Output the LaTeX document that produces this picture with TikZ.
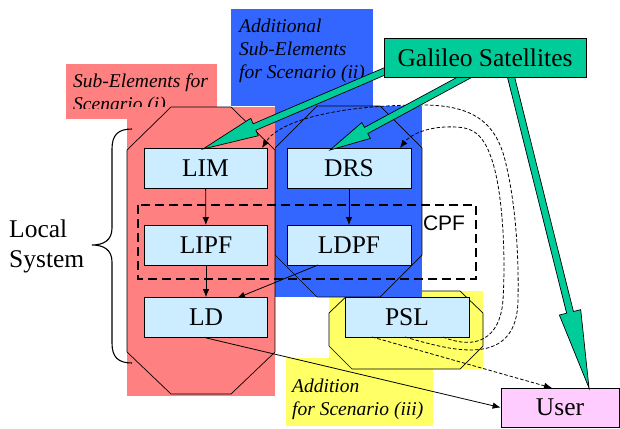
\documentclass[tikz,border=0pt]{standalone}
\usepackage{fontspec}
\setmainfont{Liberation Serif}
\setsansfont{Liberation Sans}
\usetikzlibrary{calc,arrows.meta}
\definecolor{redbg}{RGB}{255,128,128}
\definecolor{bluebg}{RGB}{51,102,255}
\definecolor{yellowbg}{RGB}{255,255,102}
\definecolor{boxblue}{RGB}{204,236,255}
\definecolor{galgreen}{RGB}{0,204,153}
\definecolor{userpink}{RGB}{255,204,255}
% block arrow: #1 start, #2 tip, #3 head length, #4 shaft half width, #5 head half width
\newcommand\garrow[5]{%
  \coordinate (tmpb) at ($(#2)!#3!(#1)$);
  \filldraw[fill=galgreen,draw=black,line width=0.7pt,line join=miter]
    ($(#1)!#4!90:(#2)$) -- ($(tmpb)!#4!90:(#2)$) -- ($(tmpb)!#5!90:(#2)$) -- (#2)
    -- ($(tmpb)!#5!-90:(#2)$) -- ($(tmpb)!#4!-90:(#2)$) -- ($(#1)!#4!-90:(#2)$) -- cycle;}
\begin{document}
\begin{tikzpicture}[x=1pt,y=-1pt,
  elem/.style={draw=black,line width=0.8pt,fill=boxblue,minimum width=123pt,minimum height=40pt,inner sep=0pt,font=\fontsize{25.5}{30}\selectfont},
  octo/.style={draw=black,line width=0.7pt},
  lab/.style={font=\fontsize{19.5}{23}\selectfont\itshape,align=left,anchor=base west,inner sep=0pt},
  flow/.style={-{Latex[length=8pt,width=6.5pt]},line width=0.8pt},
  dflow/.style={flow,dash pattern=on 3.5pt off 2pt},
]
\useasboundingbox (0,0) rectangle (620,428);
% yellow
\fill[yellowbg] (286,358) rectangle (433,426);
\fill[yellowbg] (329,291) rectangle (483,369);
\draw[octo] (352,291) -- (460,291) -- (483,313) -- (483,346) -- (460,369) -- (352,369) -- (329,346) -- (329,313) -- cycle;
\node[lab] (ylab) at (292,415) {Addition\\for Scenario (iii)};
% blue
\fill[bluebg] (231,9) rectangle (373,106);
\fill[bluebg] (275,106) rectangle (422,297);
\draw[octo] (317,106) -- (380,106) -- (422,148) -- (422,255) -- (380,297) -- (317,297) -- (275,255) -- (275,148) -- cycle;
\node[lab] (blab) at (239,78) {Additional\\Sub-Elements\\for Scenario (ii)};
% red
\fill[redbg] (66,64) rectangle (217,119);
\begin{scope}
  \clip (66,64) rectangle (217,108.5);
  \node[lab] (rlab) at (73,110) {Sub-Elements for\\Scenario (i)};
\end{scope}
\fill[redbg] (127,107) rectangle (275,396);
\draw[octo] (171,107) -- (231,107) -- (275,150) -- (275,352) -- (231,394) -- (171,394) -- (127,352) -- (127,150) -- cycle;
% CPF
\draw[line width=1.8pt,dash pattern=on 9pt off 5pt] (138,205) rectangle (476,279);
\node[font=\sffamily\fontsize{21}{25}\selectfont,inner sep=0pt] (cpf) at (444,223) {CPF};
% boxes
\node[elem] (lim) at (205.5,168) {LIM};
\node[elem,minimum width=124pt] (drs) at (349,168) {DRS};
\node[elem] (lipf) at (206,245.5) {LIPF};
\node[elem,minimum width=124pt] (ldpf) at (349,245.5) {LDPF};
\node[elem] (ld) at (206,317.5) {LD};
\node[elem,minimum width=124pt] (psl) at (407,317) {PSL};
\node[elem,fill=userpink,minimum width=118pt,minimum height=39pt] (user) at (560,407.5) {User};
% brace and label
\draw[line width=1.1pt] (132,129) .. controls (118,129) and (112,135) .. (112,149) -- (112,228)
  .. controls (112,240) and (104,245) .. (92,245) .. controls (104,245) and (112,250) .. (112,262)
  -- (112,343) .. controls (112,357) and (118,363) .. (132,363);
\node[font=\fontsize{25.5}{30}\selectfont,align=left,anchor=base west,inner sep=0pt] (local) at (9,267) {Local\\System};
% coordinates for connectors
\coordinate (ldpfout) at (318,265);
\coordinate (ldin) at (237,298);
\coordinate (pslout) at (372,337);
\coordinate (userin) at (552,388);
\coordinate (psla) at (405,337);
\coordinate (pslb) at (443,337);
\coordinate (limin) at (262,148);
\coordinate (drsin) at (400,148);
% solid connectors
\draw[flow] (lim) -- (lipf);
\draw[flow] (lipf) -- (ld);
\draw[flow] (drs) -- (ldpf);
\draw[flow] (ldpfout) -- (ldin);
\draw[flow] (ld.south) -- (user.west);
\draw[dflow] (pslout) -- (userin);
% dashed feedback curves
\draw[dflow] (psla) .. controls (450,350) and (517,370) .. (518,300)
  .. controls (519,250) and (515,200) .. (505,160)
  .. controls (495,120) and (470,105) .. (422,105)
  .. controls (340,105) and (280,120) .. (limin);
\draw[dflow] (pslb) .. controls (475,350) and (500,340) .. (503,300)
  .. controls (506,250) and (502,190) .. (492,160)
  .. controls (482,130) and (470,126) .. (445,127)
  .. controls (425,128) and (410,135) .. (drsin);
% green arrows
\coordinate (gs1) at (402,64);
\coordinate (gs2) at (478,70);
\coordinate (gs3) at (508,65);
\coordinate (gt1) at (203,149);
\coordinate (gt2) at (330,150);
\coordinate (gt3) at (589,388);
\garrow{gs1}{gt1}{56pt}{3.5pt}{9.5pt}
\garrow{gs2}{gt2}{41pt}{3.5pt}{9pt}
\garrow{gs3}{gt3}{78pt}{3.5pt}{11pt}
\node[elem,fill=galgreen,minimum width=202pt,minimum height=39pt] (gal) at (485,57.5) {Galileo Satellites};
\end{tikzpicture}
\end{document}
